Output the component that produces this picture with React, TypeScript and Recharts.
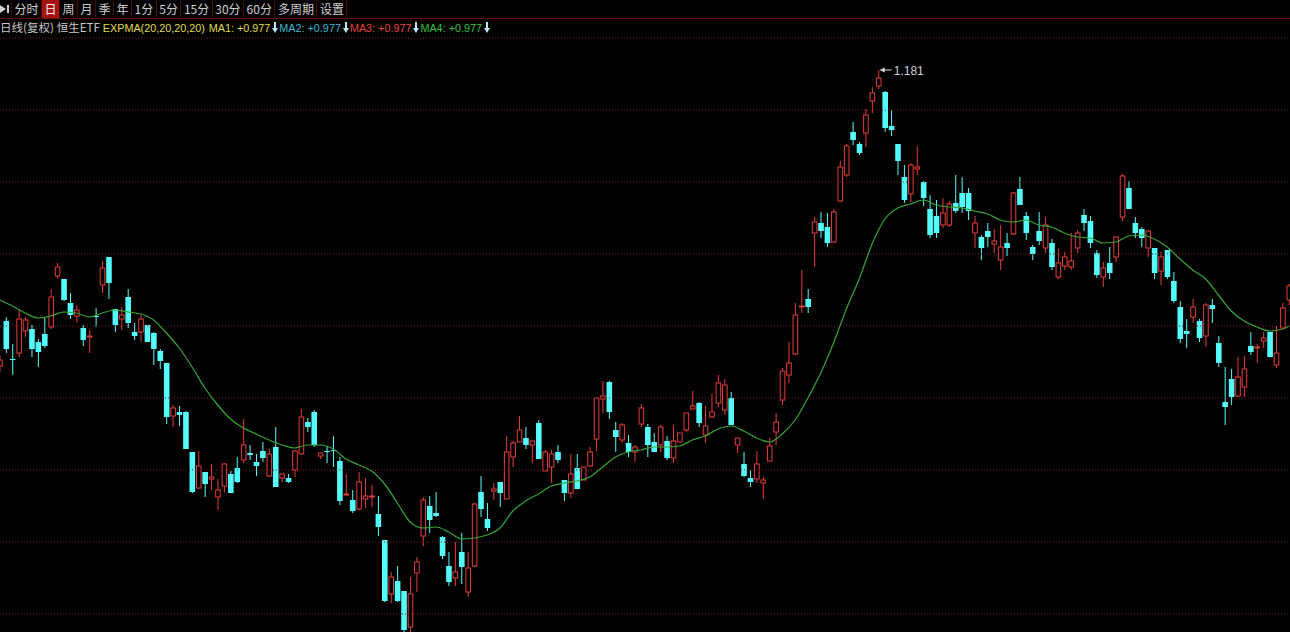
import React from 'react';
import { ComposedChart, Bar, Line, XAxis, YAxis, ReferenceLine } from 'recharts';

// ---------- data (price) ----------
const opens = [0.9442,0.9802,0.9498,0.9546,0.9722,0.9738,0.9634,0.9698,0.9754,1.0162,
1.0138,0.9946,0.9842,0.9746,0.9674,0.9842,1.0090,1.0314,0.9898,0.9818,
0.9994,0.9714,0.9714,0.9770,0.9706,0.9562,0.9466,0.9042,0.9074,0.9074,
0.8754,0.8466,0.8594,0.8538,0.8394,0.8482,0.8578,0.8626,0.8690,0.8746,
0.8674,0.8762,0.8562,0.8794,0.8546,0.8546,0.8610,0.8738,0.8994,0.9074,
0.8722,0.8762,0.8770,0.8682,0.8410,0.8370,0.8298,0.8378,0.8394,0.8258,
0.8050,0.7618,0.7722,0.7642,0.7354,0.7786,0.8082,0.8322,0.8266,0.8074,
0.7842,0.7746,0.7954,0.7634,0.7842,0.8434,0.8218,0.8442,0.8514,0.8378,
0.8714,0.8834,0.8866,0.8810,0.8986,0.8602,0.8634,0.8754,0.8530,0.8426,
0.8626,0.8530,0.8642,0.8858,0.9178,0.9314,0.8930,0.8850,0.8826,0.8754,
0.8978,0.8954,0.8834,0.8810,0.8842,0.8706,0.8834,0.8930,0.9098,0.9146,
0.8890,0.9034,0.9146,0.9090,0.9186,0.8810,0.8658,0.8546,0.8538,0.8506,
0.8682,0.8914,0.9170,0.9370,0.9538,0.9914,0.9978,1.0506,1.0586,1.0554,
1.0434,1.0762,1.0970,1.1314,1.1218,1.1306,1.1562,1.1682,1.1634,1.1362,
1.1218,1.0954,1.0818,1.1018,1.0914,1.0698,1.0642,1.0570,1.0570,1.0746,
1.0826,1.0826,1.0506,1.0474,1.0522,1.0418,1.0290,1.0426,1.0498,1.0858,
1.0642,1.0394,1.0522,1.0386,1.0426,1.0154,1.0242,1.0234,1.0386,1.0650,
1.0602,1.0346,1.0154,1.0266,1.0314,1.0634,1.0866,1.0586,1.0538,1.0386,
1.0386,1.0202,1.0370,1.0122,0.9914,0.9722,0.9834,0.9802,0.9682,0.9930,
0.9626,0.9154,0.9338,0.9202,0.9274,0.9602,0.9586,0.9642,0.9714,0.9450,
0.9746,0.9970];

const highs = [0.9530,0.9834,0.9618,0.9898,0.9834,0.9770,0.9658,0.9834,1.0058,1.0266,
1.0138,1.0026,0.9930,0.9770,0.9730,0.9906,1.0282,1.0314,0.9898,0.9914,
1.0058,0.9786,0.9850,0.9770,0.9714,0.9578,0.9466,0.9130,0.9122,0.9082,
0.8754,0.8762,0.8594,0.8658,0.8538,0.8666,0.8602,0.8714,0.9018,0.8810,
0.8738,0.8834,0.8778,0.8954,0.8578,0.8578,0.8770,0.9098,0.9026,0.9090,
0.8746,0.8802,0.8882,0.8714,0.8578,0.8450,0.8594,0.8546,0.8490,0.8402,
0.8050,0.7794,0.7842,0.7642,0.7754,0.7914,0.8394,0.8402,0.8434,0.8082,
0.7954,0.8034,0.8106,0.7954,0.8346,0.8562,0.8346,0.8506,0.8514,0.8882,
0.8842,0.9042,0.8954,0.8850,0.9010,0.8770,0.8770,0.8810,0.8530,0.8738,
0.8738,0.8634,0.8794,0.9186,0.9322,0.9322,0.8994,0.8986,0.8890,0.8810,
0.9138,0.8978,0.8906,0.8970,0.8882,0.8970,0.8906,0.9066,0.9242,0.9154,
0.9122,0.9218,0.9370,0.9338,0.9234,0.8866,0.8754,0.8610,0.8762,0.8554,
0.8866,0.9066,0.9426,0.9634,0.9946,1.0210,1.0058,1.0634,1.0674,1.0666,
1.0698,1.1082,1.1218,1.1394,1.1234,1.1498,1.1674,1.1810,1.1642,1.1490,
1.1218,1.1050,1.1066,1.1202,1.0922,1.0810,1.0770,1.0786,1.0762,1.0970,
1.0954,1.0866,1.0642,1.0490,1.0586,1.0538,1.0570,1.0506,1.0834,1.0954,
1.0674,1.0410,1.0674,1.0634,1.0458,1.0378,1.0354,1.0506,1.0530,1.0698,
1.0642,1.0370,1.0274,1.0394,1.0474,1.0978,1.0922,1.0634,1.0554,1.0530,
1.0386,1.0354,1.0370,1.0194,0.9962,0.9818,0.9978,0.9818,0.9946,0.9978,
0.9682,0.9434,0.9418,0.9514,0.9522,0.9714,0.9618,0.9714,0.9714,0.9762,
0.9946,1.0098];

const lows = [0.9394,0.9546,0.9370,0.9514,0.9674,0.9514,0.9434,0.9586,0.9738,1.0138,
0.9962,0.9818,0.9786,0.9602,0.9546,0.9754,1.0026,0.9978,0.9714,0.9730,
0.9746,0.9650,0.9634,0.9634,0.9450,0.9418,0.8978,0.8954,0.8962,0.8778,
0.8426,0.8458,0.8394,0.8450,0.8290,0.8434,0.8426,0.8506,0.8666,0.8690,
0.8562,0.8674,0.8554,0.8474,0.8514,0.8506,0.8554,0.8730,0.8914,0.8794,
0.8698,0.8666,0.8634,0.8330,0.8410,0.8266,0.8290,0.8306,0.8314,0.8082,
0.7554,0.7546,0.7554,0.7298,0.7314,0.7634,0.8002,0.8106,0.8234,0.7898,
0.7682,0.7682,0.7698,0.7594,0.7834,0.8234,0.8122,0.8370,0.8314,0.8378,
0.8634,0.8834,0.8778,0.8666,0.8698,0.8602,0.8506,0.8666,0.8362,0.8386,
0.8458,0.8530,0.8634,0.8762,0.9066,0.9018,0.8754,0.8826,0.8714,0.8674,
0.8954,0.8714,0.8754,0.8754,0.8690,0.8666,0.8834,0.8914,0.9098,0.8954,
0.8826,0.9026,0.9114,0.9050,0.8970,0.8746,0.8554,0.8474,0.8506,0.8378,
0.8682,0.8810,0.9130,0.9306,0.9530,0.9866,0.9866,1.0234,1.0466,1.0394,
1.0426,1.0754,1.0954,1.1210,1.1130,1.1194,1.1466,1.1658,1.1314,1.1282,
1.0970,1.0746,1.0754,1.0970,1.0722,1.0466,1.0466,1.0546,1.0554,1.0666,
1.0666,1.0610,1.0386,1.0290,1.0394,1.0346,1.0210,1.0322,1.0490,1.0730,
1.0450,1.0290,1.0410,1.0346,1.0210,1.0138,1.0210,1.0210,1.0346,1.0522,
1.0386,1.0146,1.0074,1.0138,1.0274,1.0602,1.0698,1.0466,1.0394,1.0314,
1.0138,1.0090,1.0138,0.9946,0.9626,0.9586,0.9786,0.9634,0.9594,0.9786,
0.9434,0.8970,0.9130,0.9194,0.9194,0.9530,0.9466,0.9586,0.9514,0.9426,
0.9746,0.9930];

const closes = [0.9490,0.9578,0.9490,0.9818,0.9810,0.9578,0.9554,0.9602,0.9994,1.0234,
0.9970,0.9850,0.9890,0.9650,0.9682,0.9834,1.0226,1.0106,0.9770,0.9850,
0.9786,0.9682,0.9818,0.9634,0.9578,0.9482,0.9034,0.9106,0.9050,0.8778,
0.8434,0.8642,0.8498,0.8554,0.8450,0.8658,0.8426,0.8514,0.8810,0.8730,
0.8642,0.8706,0.8738,0.8474,0.8578,0.8514,0.8762,0.9034,0.8954,0.8810,
0.8746,0.8754,0.8762,0.8362,0.8418,0.8282,0.8514,0.8402,0.8402,0.8154,
0.7562,0.7754,0.7562,0.7330,0.7618,0.7874,0.8370,0.8210,0.8242,0.7922,
0.7714,0.7794,0.7834,0.7826,0.8338,0.8298,0.8146,0.8458,0.8426,0.8754,
0.8826,0.8930,0.8810,0.8842,0.8698,0.8754,0.8738,0.8690,0.8426,0.8578,
0.8458,0.8634,0.8754,0.9186,0.9202,0.9074,0.8874,0.8970,0.8754,0.8794,
0.9106,0.8810,0.8754,0.8954,0.8706,0.8842,0.8906,0.9066,0.9122,0.8986,
0.8962,0.9074,0.9306,0.9290,0.8970,0.8866,0.8562,0.8514,0.8658,0.8530,
0.8802,0.8994,0.9402,0.9466,0.9850,0.9922,0.9914,1.0594,1.0522,1.0426,
1.0674,1.1034,1.1202,1.1250,1.1146,1.1450,1.1626,1.1746,1.1346,1.1330,
1.1082,1.0770,1.1050,1.1034,1.0786,1.0490,1.0506,1.0666,1.0738,1.0682,
1.0714,1.0682,1.0586,1.0386,1.0474,1.0442,1.0394,1.0386,1.0826,1.0730,
1.0506,1.0338,1.0442,1.0570,1.0234,1.0266,1.0314,1.0282,1.0506,1.0586,
1.0426,1.0170,1.0226,1.0186,1.0474,1.0962,1.0698,1.0506,1.0466,1.0522,
1.0186,1.0314,1.0154,0.9962,0.9658,0.9698,0.9914,0.9666,0.9930,0.9898,
0.9466,0.9114,0.9194,0.9354,0.9418,0.9554,0.9594,0.9666,0.9514,0.9546,
0.9906,1.0082];

// EXPMA(20) line, read every second day (last point = last day)
const expmaValues = [0.9970,0.9922,0.9866,0.9826,0.9842,0.9874,0.9866,0.9834,0.9866,0.9890,
0.9874,0.9858,0.9810,0.9706,0.9586,0.9434,0.9266,0.9130,0.9018,0.8946,
0.8898,0.8850,0.8810,0.8786,0.8810,0.8810,0.8778,0.8698,0.8650,0.8602,
0.8498,0.8346,0.8194,0.8146,0.8154,0.8114,0.8058,0.8066,0.8090,0.8146,
0.8282,0.8362,0.8418,0.8482,0.8506,0.8522,0.8554,0.8634,0.8714,0.8754,
0.8770,0.8794,0.8794,0.8802,0.8850,0.8882,0.8938,0.8962,0.8922,0.8866,
0.8834,0.8898,0.9010,0.9186,0.9386,0.9626,0.9898,1.0138,1.0418,1.0618,
1.0706,1.0738,1.0770,1.0730,1.0714,1.0706,1.0682,1.0658,1.0610,1.0594,
1.0610,1.0570,1.0554,1.0506,1.0474,1.0466,1.0426,1.0434,1.0482,1.0490,
1.0458,1.0394,1.0298,1.0210,1.0138,1.0010,0.9882,0.9802,0.9754,0.9722,
0.9738,0.9762];

const gridTicks = [1.2066, 1.1490, 1.0914, 1.0338, 0.9762, 0.9186, 0.8610, 0.8034, 0.7458];

const periodTabs = ['分时', '日', '周', '月', '季', '年', '1分', '5分', '15分', '30分', '60分', '多周期', '设置'];
const activeTab = '日';
const titleText = '日线(复权)';
const securityName = '恒生ETF';
const indicatorName = 'EXPMA(20,20,20,20)';
const maLabels = ['MA1', 'MA2', 'MA3', 'MA4'];
const maValues = ['+0.977', '+0.977', '+0.977', '+0.977'];

// ---------- derived tables ----------
const candles = opens.map((o, i) => ({
  i,
  open: o,
  high: highs[i],
  low: lows[i],
  close: closes[i],
  range: [lows[i], highs[i]],
}));
const lastDay = opens.length - 1;
const expmaPoints = expmaValues.map((v, k) => ({ i: Math.min(k * 2, lastDay), v }));
const maxHigh = Math.max(...highs);

// ---------- styles ----------
const W = 1290;
const H = 632;
const UP = '#e23e3a';
const DOWN = '#54fcfc';
const GRID = '#8a1414';
const maColors = ['#e0dc52', '#3fb6d2', '#e04646', '#3cc03c'];
const LATIN = '"Liberation Sans", Arial, "Noto Sans CJK SC", sans-serif';
const CJK = '"Noto Sans CJK SC", "Liberation Sans", sans-serif';

const Candle = (props: any) => {
  const { x, y, width, height, payload } = props;
  if (!payload || x == null || y == null) return null;
  const { open, close, high, low } = payload;
  const top0 = height >= 0 ? y : y + height;
  const h = Math.abs(height);
  const span = high - low;
  const k = span > 0 ? h / span : 0;
  const py = (v: number) => top0 + (high - v) * k;
  const cx = x + width / 2;
  const up = close >= open;
  const yTop = py(Math.max(open, close));
  let yBot = py(Math.min(open, close));
  if (yBot - yTop < 1) yBot = yTop + 1;
  const yH = py(high);
  const yL = py(low);
  const hw = 2.3;
  const annotate = high === maxHigh;
  return (
    <g>
      {up ? (
        <g>
          <line x1={cx} y1={yH} x2={cx} y2={yTop} stroke={UP} strokeWidth={1} />
          <line x1={cx} y1={yBot} x2={cx} y2={yL} stroke={UP} strokeWidth={1} />
          <rect x={cx - hw} y={yTop} width={hw * 2} height={yBot - yTop} fill="#000" stroke={UP} strokeWidth={1} />
        </g>
      ) : (
        <g>
          <line x1={cx} y1={yH} x2={cx} y2={yL} stroke={DOWN} strokeWidth={1} />
          <rect x={cx - hw - 0.5} y={yTop} width={hw * 2 + 1} height={yBot - yTop} fill={DOWN} />
        </g>
      )}
      {annotate && (
        <g>
          <line x1={cx + 2} y1={yH} x2={cx + 13} y2={yH} stroke="#d8d8d8" strokeWidth={1} />
          <polygon points={`${cx + 1},${yH} ${cx + 6},${yH - 2.5} ${cx + 6},${yH + 2.5}`} fill="#d8d8d8" />
          <text x={cx + 15} y={yH + 4.5} fill="#d0d0d0" fontSize={12} fontFamily={LATIN}>
            {high.toFixed(3)}
          </text>
        </g>
      )}
    </g>
  );
};

const PlayEndIcon = () => (
  <svg width={10} height={10} viewBox="0 0 10 10" style={{ display: 'block' }}>
    <polygon points="0,1 6,5 0,9" fill="#d0d0d0" />
    <rect x={7} y={1} width={2} height={8} fill="#d0d0d0" />
  </svg>
);

const DownArrow = () => (
  <svg width={6} height={11} viewBox="0 0 6 11" style={{ display: 'inline-block', verticalAlign: '-1px', margin: '0 1px 0 2px' }}>
    <rect x={2} y={0} width={2} height={7} fill="#b8e6f6" />
    <polygon points="0,6 6,6 3,11" fill="#b8e6f6" />
  </svg>
);

export default function App() {
  return (
    <div
      style={{
        position: 'fixed',
        left: 0,
        top: 0,
        width: W,
        height: H,
        background: '#000',
        overflow: 'hidden',
      }}
    >
      <div style={{ position: 'absolute', left: 0, top: 0 }}>
        <ComposedChart
          width={W}
          height={H}
          data={candles}
          margin={{ top: 0, right: 0, bottom: 0, left: 0 }}
          accessibilityLayer={false}
        >
          <XAxis type="number" dataKey="i" domain={[0.062, 201.15]} allowDataOverflow hide />
          <YAxis type="number" domain={[0.7314, 1.237]} allowDataOverflow hide />
          {gridTicks.map((t) => (
            <ReferenceLine key={t} y={t} stroke={GRID} strokeDasharray="1 2" strokeWidth={1} ifOverflow="hidden" />
          ))}
          <Line
            data={expmaPoints}
            dataKey="v"
            type="monotone"
            stroke="#35a535"
            strokeWidth={1.2}
            dot={false}
            activeDot={false}
            isAnimationActive={false}
          />
          <Bar
            dataKey="range"
            barSize={5}
            isAnimationActive={false}
            shape={(p: any) => <Candle {...p} />}
          />
        </ComposedChart>
      </div>

      {/* period toolbar */}
      <div
        style={{
          position: 'absolute',
          left: 0,
          top: 0,
          width: W,
          height: 18,
          borderBottom: '1px solid #6a0c0c',
          display: 'flex',
          alignItems: 'stretch',
          fontFamily: CJK,
          fontSize: 12,
          color: '#cfcfcf',
          background: '#000',
        }}
      >
        <div style={{ width: 11, display: 'flex', alignItems: 'center', borderRight: '1px solid #4a0808' }}>
          <PlayEndIcon />
        </div>
        {periodTabs.map((t) => (
          <div
            key={t}
            style={{
              padding: '0 2.5px',
              lineHeight: '18px',
              borderRight: '1px solid #4a0808',
              background: t === activeTab ? '#a51212' : 'transparent',
              color: t === activeTab ? '#f0f0f0' : '#cfcfcf',
              whiteSpace: 'nowrap',
            }}
          >
            {t}
          </div>
        ))}
      </div>

      {/* indicator legend */}
      <div
        style={{
          position: 'absolute',
          left: 0,
          top: 19,
          height: 16,
          lineHeight: '16px',
          whiteSpace: 'nowrap',
          fontSize: 10.8,
          fontFamily: LATIN,
        }}
      >
        <span style={{ color: '#c8c8c8', fontFamily: CJK, fontSize: 11.5 }}>{titleText}</span>
        <span style={{ color: '#c8c8c8', fontFamily: CJK, fontSize: 11.5, marginLeft: 3 }}>{securityName}</span>
        <span style={{ color: maColors[0], marginLeft: 3 }}>{indicatorName}</span>
        {maLabels.map((m, k) => (
          <span key={m}>
            <span style={{ color: maColors[k], marginLeft: k === 0 ? 4 : 0 }}>
              {m}: {maValues[k]}
            </span>
            <DownArrow />
          </span>
        ))}
      </div>
    </div>
  );
}
